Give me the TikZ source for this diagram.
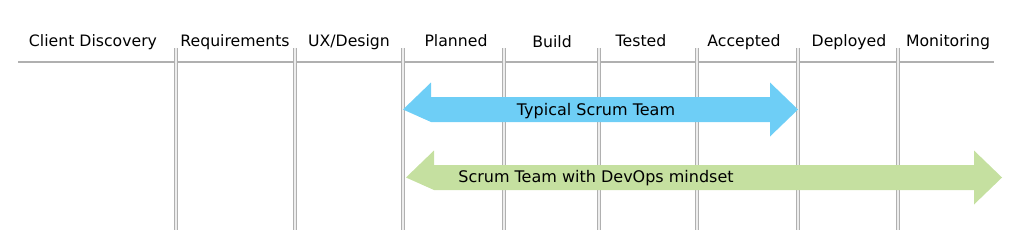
\documentclass[tikz,border=0pt]{standalone}
\usepackage{fontspec}
\setmainfont{DejaVu Sans}
\usetikzlibrary{positioning}
\definecolor{scrumBlue}{RGB}{110,206,246}
\definecolor{devopsGreen}{RGB}{197,224,160}
\definecolor{gridGray}{RGB}{176,176,176}
\tikzset{
    phaseLabel/.style={font=\fontsize{15.7}{18}\selectfont, anchor=base, inner sep=0pt},
    arrowText/.style={font=\fontsize{16}{18}\selectfont, anchor=base, inner sep=0pt},
    headLine/.style={line width=2pt, draw=gridGray},
    colLine/.style={line width=0.9pt, draw=gridGray, double=black!7, double distance=1.3pt},
    scrumArrow/.style={fill=scrumBlue, draw=none},
    devopsArrow/.style={fill=devopsGreen, draw=none}
}

\begin{document}
\begin{tikzpicture}[x=1pt, y=-1pt]

        % --- Frame ---
        \useasboundingbox (0,0) rectangle (1024,230);

        % --- Double Arrow Macro (style, left tip, right tip, centre line) ---
        \def\drawBiArrow#1#2#3#4{
            \fill[#1] (#2,#4) -- ++(28,-27) -- ++(0,14.5) -- ({#3-28},{#4-12.5})
                -- ++(0,-14.5) -- (#3,#4) -- ++(-28,27) -- ++(0,-14.5)
                -- ({#2+28},{#4+12.5}) -- cycle;
        }

        % 1. Header line
        \coordinate (HL) at (18,62);
        \coordinate (HR) at (994,62);
        \draw[headLine] (HL) -- (HR);

        % 2. Column separators
        \foreach \x [count=\i] in {176,295,403,504,599,697,798,898} {
            \coordinate (T\i) at (\x,48);
            \coordinate (B\i) at (\x,230);
            \draw[colLine] (T\i) -- (B\i);
        }

        % 3. Phase labels
        \node[phaseLabel] (discovery) at (93,46)  {Client Discovery};
        \node[phaseLabel] (reqs)      at (235,46) {Requirements};
        \node[phaseLabel] (ux)        at (349,46) {UX/Design};
        \node[phaseLabel] (planned)   at (456,46) {Planned};
        \node[phaseLabel] (build)     at (552,48) {Build};
        \node[phaseLabel] (tested)    at (641,47) {Tested};
        \node[phaseLabel] (accepted)  at (744,46) {Accepted};
        \node[phaseLabel] (deployed)  at (849,46) {Deployed};
        \node[phaseLabel] (monitor)   at (948,46) {Monitoring};

        % 4. Team arrows
        \drawBiArrow{scrumArrow}{403}{798}{109.5}
        \drawBiArrow{devopsArrow}{406}{1002}{177.5}

        % 5. Arrow labels
        \node[arrowText] (scrum)  at (596,115) {Typical Scrum Team};
        \node[arrowText] (devops) at (596,182) {Scrum Team with DevOps mindset};

\end{tikzpicture}
\end{document}
